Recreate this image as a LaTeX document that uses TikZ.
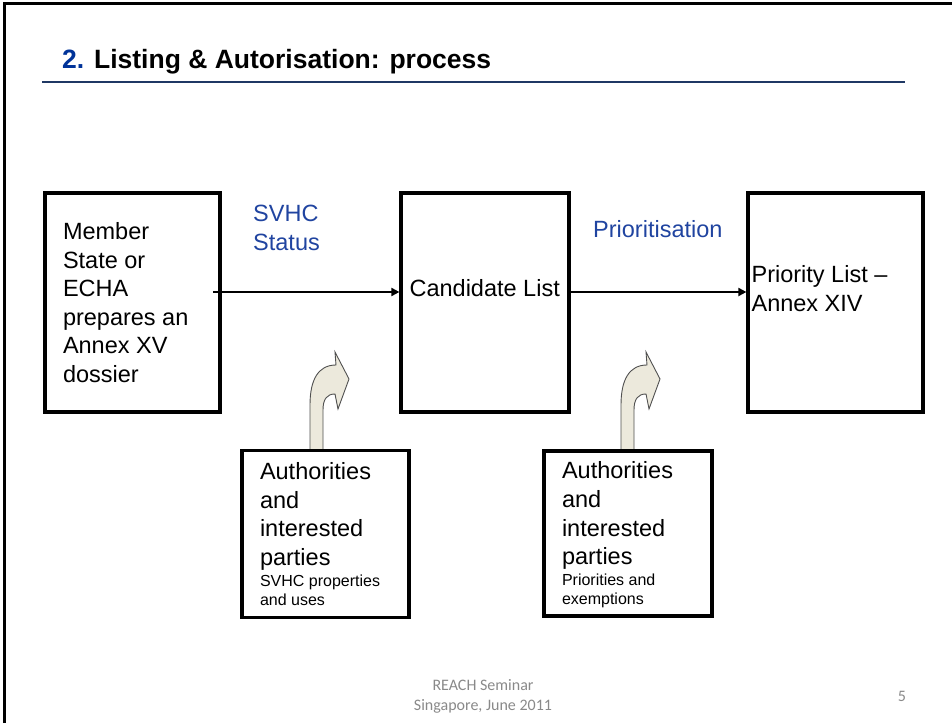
\documentclass[tikz,border=0pt]{standalone}
\usepackage{fontspec}
\setmainfont{Liberation Sans}
\newfontfamily\footfont{Carlito}
\usetikzlibrary{arrows.meta}

\definecolor{labelblue}{RGB}{32,68,160}
\definecolor{titleblue}{RGB}{0,51,153}
\definecolor{rulecol}{RGB}{31,56,100}
\definecolor{footgray}{RGB}{137,137,137}
\definecolor{bentfill}{RGB}{236,233,220}
\definecolor{bentline}{RGB}{80,80,80}

\newcommand{\bigtxt}{\fontsize{23.5}{28.6}\selectfont}
\newcommand{\smalltxt}{\fontsize{16}{19}\selectfont}
\newcommand{\boxtext}[2]{\parbox[c]{#1}{\raggedright\bigtxt #2\par}}

\tikzset{
  box/.style={draw, line width=3.2pt, inner xsep=18pt, inner ysep=0pt},
  lbl/.style={inner sep=0pt, align=left, font=\bigtxt},
  flow/.style={line width=1.9pt, -{Triangle[length=8pt,width=8pt]}},
  bent/.style={fill=bentfill, draw=bentline, line width=0.9pt},
  foot/.style={inner sep=0pt, align=center, text=footgray, font=\footfont\fontsize{16}{20}\selectfont}
}

\begin{document}
\begin{tikzpicture}[x=1pt,y=-1pt]
\useasboundingbox (0,0) rectangle (952,723);

% slide frame and title
\draw[line width=3pt] (4.5,723) -- (4.5,3.5) -- (952,3.5);
\node[anchor=base west, inner sep=0pt, font=\fontsize{26.5}{32}\selectfont\bfseries] (title) at (62,68)
  {{\color{titleblue}2.} Listing \& Autorisation: process};
\draw[rulecol, line width=1.5pt] (42,82) -- (905,82);

% bent arrows from the parties
\foreach \dx in {0,311}
  \draw[bent, shift={(\dx,0)}] (310,451) -- (310,405) .. controls (310,380) and (318,365) .. (336,365)
    -- (335,352) -- (349,379) -- (338,409) -- (335,394)
    .. controls (327,394) and (323,399) .. (323,410) -- (323,451) -- cycle;

% main boxes
\node[box, minimum height=219pt] (ms) at (132.5,302.5)
  {\boxtext{139pt}{Member\\State or\\ECHA\\prepares an\\Annex XV\\dossier}};
\node[box, minimum width=168pt, minimum height=219pt] (cl) at (485,302.5) {};
\node[box, minimum width=175pt, minimum height=219pt] (pl) at (835.5,302.5) {};
\node[lbl, anchor=west] (cltxt) at ([xshift=10pt,yshift=14.5pt]cl.west) {Candidate List};
\node[lbl, anchor=west] (pltxt) at ([xshift=5pt,yshift=14pt]pl.west) {Priority List --\\Annex XIV};

\node[box, minimum height=167pt] (ap1) at (325.5,534)
  {\boxtext{131pt}{Authorities\\and\\interested\\parties\par\vspace{2pt}\smalltxt SVHC properties\\and uses}};
\node[box, minimum height=165pt] (ap2) at (628,533.5)
  {\boxtext{132pt}{\vspace{3pt}Authorities\\and\\interested\\parties\par\vspace{2pt}\smalltxt Priorities and\\exemptions}};

% flow
\coordinate (start) at (213,292);
\draw[flow] (start) -- (start -| cl.west);
\draw[flow] (start -| cl.east) -- (start -| pl.west);
\node[lbl, text=labelblue, anchor=north west] (svhc) at (253,205) {SVHC\\Status};
\node[lbl, text=labelblue, anchor=west] (prio) at (593,229) {Prioritisation};

% footer
\node[foot] (seminar) at (483,696) {REACH Seminar\\Singapore, June 2011};
\node[foot] (pnum) at (902,696) {5};
\end{tikzpicture}
\end{document}
